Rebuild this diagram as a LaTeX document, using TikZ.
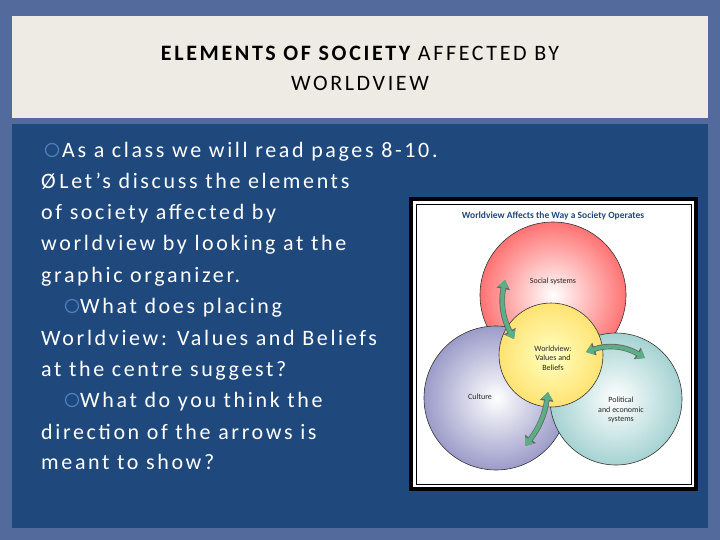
\documentclass[tikz,border=0pt]{standalone}
\usepackage{fontspec}
\setmainfont{Carlito}
\newfontfamily\spaced[LetterSpace=12]{Carlito}
\usetikzlibrary{arrows.meta,shadings}
\definecolor{outerbg}{HTML}{536A9C}
\definecolor{titlebg}{HTML}{EDEBE3}
\definecolor{bodybg}{HTML}{1F497D}
\definecolor{bul}{HTML}{4F81BD}
\definecolor{grn}{HTML}{5BAE85}
\tikzset{
 line/.style={anchor=base west,text=white,font=\spaced\fontsize{22}{22}\selectfont,inner sep=0},
 circ/.style={draw=black!80,line width=0.6},
 lab/.style={font=\fontsize{8}{9.5}\selectfont,align=center,text=black!85},
 gar/.style={draw=black!60,line width=5.5,{Triangle[length=9,width=13]}-{Triangle[length=9,width=13]}},
 gin/.style={draw=grn,line width=4,{Triangle[length=7.5,width=10.5]}-{Triangle[length=7.5,width=10.5]}},
 hb/.style={draw=bul,line width=1.2}
}
\begin{document}
\begin{tikzpicture}[x=1pt,y=-1pt]
\useasboundingbox (0,0) rectangle (720,540);
\fill[outerbg] (0,0) rectangle (720,540);
\fill[titlebg] (12,16) rectangle (708,118);
\fill[bodybg] (12,124) rectangle (708,528);
\node[font=\spaced\fontsize{22}{22}\selectfont,align=center,inner sep=0] (title) at (360,68) {{\bfseries ELEMENTS OF SOCIETY} AFFECTED BY\\[8pt]WORLDVIEW};
% bullets
\draw[hb] (52,150) circle (6.5);
\draw[hb] (72,306) circle (6.5);
\draw[hb] (72,400) circle (6.5);
\node[line] (l1) at (62,158) {As a class we will read pages 8-10.};
\node[line] (l2) at (41,189) {Ø\,Let’s discuss the elements};
\node[line] (l3) at (41,220) {of society affected by};
\node[line] (l4) at (41,251) {worldview by looking at the};
\node[line] (l5) at (41,282) {graphic organizer.};
\node[line] (l6) at (80,313) {What does placing};
\node[line] (l7) at (41,345) {Worldview: Values and Beliefs};
\node[line] (l8) at (41,376) {at the centre suggest?};
\node[line] (l9) at (80,407) {What do you think the};
\node[line] (l10) at (41,439) {direction of the arrows is};
\node[line] (l11) at (41,469) {meant to show?};
% image
\fill[black] (409,197) rectangle (698,491);
\fill[white] (413,201) rectangle (694,487);
\draw[black,line width=0.8] (416,204) rectangle (691,484);
\node[font=\bfseries\fontsize{9.5}{10}\selectfont,text=bodybg] (itl) at (553,216) {Worldview Affects the Way a Society Operates};
\shade[inner color=white,outer color=red!55!white] (553,295) circle (73);
\draw[circ] (553,295) circle (73);
\shade[inner color=white,outer color=blue!30!gray!60!white] (496,398) circle (72);
\draw[circ] (496,398) circle (72);
\shade[inner color=white,outer color=teal!35!white] (616,399) circle (66);
\draw[circ] (616,399) circle (66);
\shade[inner color=yellow!25!white,outer color=yellow!60!orange!55!white] (551,355) circle (52);
\draw[circ] (551,355) circle (52);
\node[lab] (ss) at (553,281) {Social systems};
\node[lab] (wv) at (553,358) {Worldview:\\Values and\\Beliefs};
\node[lab] (cu) at (480,397) {Culture};
\node[lab] (pe) at (621,410) {Political\\and economic\\systems};
\coordinate (a1s) at (505,280); \coordinate (a1e) at (514,339);
\coordinate (a2s) at (586,352); \coordinate (a2e) at (645,358);
\coordinate (a3s) at (548,392); \coordinate (a3e) at (525,446);
\draw[gar] (a1s) to[bend right=20] (a1e);
\draw[gin] (a1s) to[bend right=20] (a1e);
\draw[gar] (a2s) to[bend left=25] (a2e);
\draw[gin] (a2s) to[bend left=25] (a2e);
\draw[gar] (a3s) to[bend left=15] (a3e);
\draw[gin] (a3s) to[bend left=15] (a3e);
\end{tikzpicture}
\end{document}
